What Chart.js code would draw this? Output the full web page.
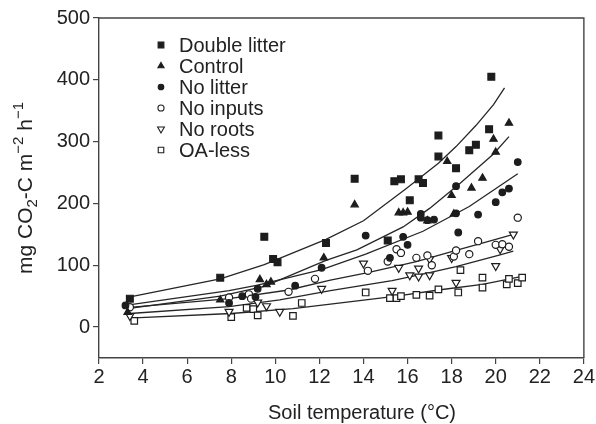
<!DOCTYPE html>
<html>
<head>
<meta charset="utf-8">
<script src="https://cdn.jsdelivr.net/npm/chart.js@4.4.0/dist/chart.umd.min.js"></script>
<style>
body { margin: 0; background: #fff; }
</style>
</head>
<body>
<canvas id="soilChart" width="596" height="424"></canvas>
<script>
// measured respiration points [soil temperature, mg CO2-C m-2 h-1]
var seriesNames = ['Double litter', 'Control', 'No litter', 'No inputs', 'No roots', 'OA-less'];

var doubleLitter = [[3.4,46],[7.5,80],[9.5,146],[9.9,110],[10.1,105],[12.3,136],[13.6,240],[15.1,140],[15.4,236],[15.7,239],
  [16.1,205],[16.5,239],[16.7,233],[17.4,310],[17.4,276],[18.2,257],[18.8,286],[19.1,295],[19.7,320],[19.8,405]];
var control = [[3.3,24],[7.5,44],[9.3,77],[9.6,69],[9.8,73],[12.2,112],[13.6,198],[15.6,185],[15.8,185],[16.0,186],
  [16.9,172],[17.8,268],[18.0,213],[18.1,183],[18.9,225],[19.4,241],[19.9,304],[20.0,283],[20.6,330]];
var noLitter = [[3.2,35],[7.9,39],[8.5,50],[9.1,49],[9.2,62],[10.9,67],[12.1,96],[14.1,148],[15.2,112],[15.8,146],
  [16.0,133],[16.6,183],[16.6,177],[16.9,173],[17.2,174],[18.2,228],[18.2,184],[18.3,153],[19.2,182],[20.0,202],
  [20.3,218],[20.6,224],[21.0,267]];
var noInputs = [[3.4,32],[7.9,48],[8.8,53],[8.9,46],[10.6,57],[11.8,78],[14.2,91],[15.1,106],[15.5,126],[15.7,120],
  [16.4,112],[16.9,116],[17.1,100],[18.1,114],[18.2,124],[18.8,118],[19.2,139],[20.0,133],[20.3,134],[20.6,130],[21.0,177]];
var noRoots = [[3.4,18],[7.9,25],[9.2,40],[9.6,34],[10.2,25],[12.1,62],[14.0,103],[15.3,59],[15.6,96],[16.1,84],
  [16.5,95],[16.5,82],[17.0,84],[17.0,110],[18.0,112],[18.2,72],[20.0,99],[20.2,126],[20.8,150]];
var oaLess = [[3.6,10],[8.0,16],[8.7,31],[9.0,29],[9.2,19],[10.8,18],[11.2,39],[14.1,56],[15.2,47],[15.5,47],
  [15.7,50],[16.4,52],[17.0,51],[17.4,61],[18.3,56],[18.4,92],[19.4,80],[19.4,64],[20.5,69],[20.6,78],[21.0,71],[21.2,80]];

// fitted curves
var fitDoubleLitter = [[3.3,48],[7.5,78],[9.5,101],[12.3,142],[14.0,172],[15.9,223],[17.4,265],[18.2,292],[19.1,326],[19.9,360],[20.4,387]];
var fitControl = [[3.3,30],[7.5,50],[9.5,66],[12.3,108],[13.7,125],[15.8,162],[17.0,192],[18.4,233],[19.9,280],[20.6,308]];
var fitNoLitter = [[3.2,35],[7.9,59],[9.2,68],[12.1,93],[14.1,118],[16.7,155],[18.8,195],[21.0,248]];
var fitNoInputs = [[3.4,32],[7.9,46],[10.6,60],[12.5,76],[14.2,88],[16.4,106],[18.2,124],[20.0,142],[20.8,150]];
var fitNoRoots = [[3.4,22],[7.9,33],[10.2,44],[12.5,59],[15.3,75],[17.0,88],[18.2,98],[20.2,117],[20.8,123]];
var fitOALess = [[3.6,15],[8.0,22],[10.8,30],[12.5,37],[14.1,44],[15.5,50],[17.4,60],[19.4,69],[21.2,82]];

var yTicks = [0, 100, 200, 300, 400, 500];
var xTicks = [2, 4, 6, 8, 10, 12, 14, 16, 18, 20, 22, 24];

var ink = '#1d1d1d';
var fontFam = '"Liberation Sans", Arial, Helvetica, sans-serif';

var markers = [
  { style: 'rect', radius: 4.8, fill: ink, rot: 0 },
  { style: 'triangle', radius: 4.2, fill: ink, rot: 0 },
  { style: 'circle', radius: 3.3, fill: ink, rot: 0 },
  { style: 'circle', radius: 3.6, fill: '#fff', rot: 0 },
  { style: 'triangle', radius: 4.6, fill: '#fff', rot: 180 },
  { style: 'rect', radius: 4.6, fill: '#fff', rot: 0 }
];

function toXY(arr) {
  return arr.map(function(p) { return { x: p[0], y: p[1] }; });
}

var pointSets = [doubleLitter, control, noLitter, noInputs, noRoots, oaLess];
var fitSets = [fitDoubleLitter, fitControl, fitNoLitter, fitNoInputs, fitNoRoots, fitOALess];

var datasets = [];
fitSets.forEach(function(f, i) {
  datasets.push({
    label: 'fit ' + seriesNames[i],
    data: toXY(f),
    showLine: true,
    borderColor: '#262626',
    borderWidth: 1.3,
    pointRadius: 0,
    tension: 0,
    order: 2
  });
});
pointSets.forEach(function(s, i) {
  var m = markers[i];
  datasets.push({
    label: seriesNames[i],
    data: toXY(s),
    pointStyle: m.style,
    pointRadius: m.radius,
    rotation: m.rot,
    backgroundColor: m.fill,
    borderColor: ink,
    borderWidth: 1.2,
    order: 1
  });
});

var decorations = {
  id: 'decorations',
  afterDraw: function(chart) {
    var ctx = chart.ctx;
    var a = chart.chartArea;
    ctx.save();
    // top and right frame
    ctx.strokeStyle = '#444';
    ctx.lineWidth = 1.4;
    ctx.beginPath();
    ctx.moveTo(a.left, a.top);
    ctx.lineTo(a.right, a.top);
    ctx.lineTo(a.right, a.bottom);
    ctx.stroke();

    // legend
    ctx.font = '20px ' + fontFam;
    ctx.textBaseline = 'middle';
    ctx.textAlign = 'left';
    seriesNames.forEach(function(name, i) {
      var y = 45 + i * 21;
      var m = markers[i];
      ctx.fillStyle = m.fill;
      ctx.strokeStyle = ink;
      ctx.lineWidth = 1.1;
      Chart.helpers.drawPoint(ctx, { pointStyle: m.style, radius: m.radius * 0.85, rotation: m.rot, borderWidth: 1.1 }, 161, y);
      ctx.fillStyle = '#222';
      ctx.fillText(name, 179, y + 1);
    });

    // x title
    ctx.textAlign = 'center';
    ctx.textBaseline = 'alphabetic';
    ctx.fillStyle = '#222';
    ctx.fillText('Soil temperature (\u00B0C)', 362, 419);

    // y title with sub/superscripts
    var parts = [
      { t: 'mg CO', f: 21, dy: 0 },
      { t: '2', f: 15, dy: 5 },
      { t: '-C m', f: 21, dy: 0 },
      { t: '\u22122', f: 15, dy: -9 },
      { t: ' h', f: 21, dy: 0 },
      { t: '\u22121', f: 15, dy: -9 }
    ];
    var total = 0;
    parts.forEach(function(p) {
      ctx.font = p.f + 'px ' + fontFam;
      p.w = ctx.measureText(p.t).width;
      total += p.w;
    });
    ctx.translate(32, 188);
    ctx.rotate(-Math.PI / 2);
    ctx.textAlign = 'left';
    var x = -total / 2;
    parts.forEach(function(p) {
      ctx.font = p.f + 'px ' + fontFam;
      ctx.fillText(p.t, x, p.dy);
      x += p.w;
    });
    ctx.restore();
  }
};

new Chart(document.getElementById('soilChart'), {
  type: 'scatter',
  data: { datasets: datasets },
  options: {
    responsive: false,
    animation: false,
    layout: { padding: { top: 18, right: 12, left: 0, bottom: 0 } },
    plugins: { legend: { display: false }, tooltip: { enabled: false } },
    scales: {
      x: {
        type: 'linear',
        min: 2,
        max: 24,
        afterBuildTicks: function(axis) {
          axis.ticks = xTicks.map(function(v) { return { value: v }; });
        },
        afterFit: function(axis) { axis.height = 66; },
        ticks: { color: '#222', font: { size: 20, family: fontFam }, padding: 1, maxRotation: 0, autoSkip: false },
        grid: { drawOnChartArea: false, drawTicks: true, tickLength: 6, color: '#444', lineWidth: 1.2 },
        border: { color: '#444', width: 1.4 }
      },
      y: {
        type: 'linear',
        min: -50,
        max: 500,
        afterBuildTicks: function(axis) {
          axis.ticks = yTicks.map(function(v) { return { value: v }; });
        },
        afterFit: function(axis) { axis.width = 99; },
        ticks: { color: '#222', font: { size: 20, family: fontFam }, padding: 3, autoSkip: false },
        grid: { drawOnChartArea: false, drawTicks: true, tickLength: 6, color: '#444', lineWidth: 1.2 },
        border: { color: '#444', width: 1.4 }
      }
    }
  },
  plugins: [decorations]
});
</script>
</body>
</html>
